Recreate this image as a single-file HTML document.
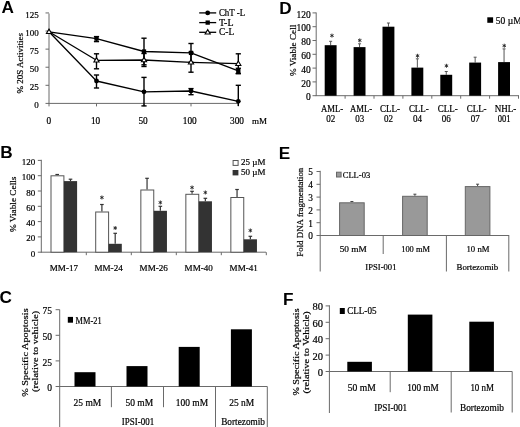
<!DOCTYPE html><html><head><meta charset="utf-8"><style>html,body{margin:0;padding:0;background:#fff;width:520px;height:427px;overflow:hidden}svg{display:block;will-change:transform}text{font-family:"Liberation Serif",serif;stroke:#000;stroke-width:0.2px}</style></head><body><svg width="520" height="427" viewBox="0 0 520 427"><rect width="520" height="427" fill="#fff"/><text x="1.60" y="12.70" font-size="17.2" text-anchor="start" fill="#000" style='font-family:"Liberation Sans", sans-serif;stroke:none' font-weight="bold" stroke="none">A</text>
<line x1="49.00" y1="13.50" x2="49.00" y2="103.70" stroke="#6a6a6a" stroke-width="1" />
<line x1="48.50" y1="103.40" x2="238.50" y2="103.40" stroke="#6a6a6a" stroke-width="1" />
<line x1="45.50" y1="103.40" x2="49.00" y2="103.40" stroke="#6a6a6a" stroke-width="1" />
<text x="38.80" y="108.40" font-size="9" text-anchor="end" fill="#000" >0</text>
<line x1="45.50" y1="85.31" x2="49.00" y2="85.31" stroke="#6a6a6a" stroke-width="1" />
<text x="38.80" y="90.31" font-size="9" text-anchor="end" fill="#000" >25</text>
<line x1="45.50" y1="67.22" x2="49.00" y2="67.22" stroke="#6a6a6a" stroke-width="1" />
<text x="38.80" y="72.22" font-size="9" text-anchor="end" fill="#000" >50</text>
<line x1="45.50" y1="49.13" x2="49.00" y2="49.13" stroke="#6a6a6a" stroke-width="1" />
<text x="38.80" y="54.13" font-size="9" text-anchor="end" fill="#000" >75</text>
<line x1="45.50" y1="31.04" x2="49.00" y2="31.04" stroke="#6a6a6a" stroke-width="1" />
<text x="38.80" y="36.04" font-size="9" text-anchor="end" fill="#000" >100</text>
<line x1="45.50" y1="12.95" x2="49.00" y2="12.95" stroke="#6a6a6a" stroke-width="1" />
<text x="38.80" y="17.95" font-size="9" text-anchor="end" fill="#000" >125</text>
<line x1="49.00" y1="103.40" x2="49.00" y2="106.40" stroke="#6a6a6a" stroke-width="1" />
<text x="48.90" y="123.60" font-size="9.3" text-anchor="middle" fill="#000" >0</text>
<line x1="96.50" y1="103.40" x2="96.50" y2="106.40" stroke="#6a6a6a" stroke-width="1" />
<text x="95.60" y="123.60" font-size="9.3" text-anchor="middle" fill="#000" >10</text>
<line x1="144.00" y1="103.40" x2="144.00" y2="106.40" stroke="#6a6a6a" stroke-width="1" />
<text x="143.10" y="123.60" font-size="9.3" text-anchor="middle" fill="#000" >50</text>
<line x1="191.00" y1="103.40" x2="191.00" y2="106.40" stroke="#6a6a6a" stroke-width="1" />
<text x="189.80" y="123.60" font-size="9.3" text-anchor="middle" fill="#000" >100</text>
<line x1="238.30" y1="103.40" x2="238.30" y2="106.40" stroke="#6a6a6a" stroke-width="1" />
<text x="237.00" y="123.60" font-size="9.3" text-anchor="middle" fill="#000" >300</text>
<text x="252.00" y="123.50" font-size="9" text-anchor="start" fill="#000" >mM</text>
<text x="22.90" y="63.20" font-size="9" text-anchor="middle" fill="#000" textLength="60.60" lengthAdjust="spacingAndGlyphs" transform="rotate(-90 22.90 63.20)" >% 20S Activities</text>
<line x1="96.50" y1="36.60" x2="96.50" y2="41.60" stroke="#000" stroke-width="1.4" />
<line x1="93.90" y1="36.60" x2="99.10" y2="36.60" stroke="#000" stroke-width="1.4" />
<line x1="93.90" y1="41.60" x2="99.10" y2="41.60" stroke="#000" stroke-width="1.4" />
<line x1="144.00" y1="38.20" x2="144.00" y2="64.80" stroke="#000" stroke-width="1.4" />
<line x1="141.40" y1="38.20" x2="146.60" y2="38.20" stroke="#000" stroke-width="1.4" />
<line x1="141.40" y1="64.80" x2="146.60" y2="64.80" stroke="#000" stroke-width="1.4" />
<line x1="191.00" y1="43.50" x2="191.00" y2="62.30" stroke="#000" stroke-width="1.4" />
<line x1="188.40" y1="43.50" x2="193.60" y2="43.50" stroke="#000" stroke-width="1.4" />
<line x1="188.40" y1="62.30" x2="193.60" y2="62.30" stroke="#000" stroke-width="1.4" />
<line x1="238.30" y1="68.30" x2="238.30" y2="73.50" stroke="#000" stroke-width="1.4" />
<line x1="235.70" y1="68.30" x2="240.90" y2="68.30" stroke="#000" stroke-width="1.4" />
<line x1="235.70" y1="73.50" x2="240.90" y2="73.50" stroke="#000" stroke-width="1.4" />
<line x1="96.50" y1="53.80" x2="96.50" y2="68.80" stroke="#000" stroke-width="1.4" />
<line x1="93.90" y1="53.80" x2="99.10" y2="53.80" stroke="#000" stroke-width="1.4" />
<line x1="93.90" y1="68.80" x2="99.10" y2="68.80" stroke="#000" stroke-width="1.4" />
<line x1="144.00" y1="53.50" x2="144.00" y2="66.50" stroke="#000" stroke-width="1.4" />
<line x1="141.40" y1="53.50" x2="146.60" y2="53.50" stroke="#000" stroke-width="1.4" />
<line x1="141.40" y1="66.50" x2="146.60" y2="66.50" stroke="#000" stroke-width="1.4" />
<line x1="191.00" y1="52.30" x2="191.00" y2="72.20" stroke="#000" stroke-width="1.4" />
<line x1="188.40" y1="52.30" x2="193.60" y2="52.30" stroke="#000" stroke-width="1.4" />
<line x1="188.40" y1="72.20" x2="193.60" y2="72.20" stroke="#000" stroke-width="1.4" />
<line x1="238.30" y1="53.80" x2="238.30" y2="73.60" stroke="#000" stroke-width="1.4" />
<line x1="235.70" y1="53.80" x2="240.90" y2="53.80" stroke="#000" stroke-width="1.4" />
<line x1="235.70" y1="73.60" x2="240.90" y2="73.60" stroke="#000" stroke-width="1.4" />
<line x1="96.50" y1="75.00" x2="96.50" y2="88.00" stroke="#000" stroke-width="1.4" />
<line x1="93.90" y1="75.00" x2="99.10" y2="75.00" stroke="#000" stroke-width="1.4" />
<line x1="93.90" y1="88.00" x2="99.10" y2="88.00" stroke="#000" stroke-width="1.4" />
<line x1="144.00" y1="77.40" x2="144.00" y2="105.90" stroke="#000" stroke-width="1.4" />
<line x1="141.40" y1="77.40" x2="146.60" y2="77.40" stroke="#000" stroke-width="1.4" />
<line x1="141.40" y1="105.90" x2="146.60" y2="105.90" stroke="#000" stroke-width="1.4" />
<line x1="191.00" y1="88.60" x2="191.00" y2="94.70" stroke="#000" stroke-width="1.4" />
<line x1="188.40" y1="88.60" x2="193.60" y2="88.60" stroke="#000" stroke-width="1.4" />
<line x1="188.40" y1="94.70" x2="193.60" y2="94.70" stroke="#000" stroke-width="1.4" />
<line x1="238.30" y1="85.30" x2="238.30" y2="106.00" stroke="#000" stroke-width="1.4" />
<line x1="235.70" y1="85.30" x2="240.90" y2="85.30" stroke="#000" stroke-width="1.4" />
<polyline points="49.00,31.80 96.50,38.60 144.00,51.50 191.00,52.90 238.30,70.90" fill="none" stroke="#000" stroke-width="1.3" stroke-linejoin="round"/>
<polyline points="49.00,31.80 96.50,60.30 144.00,60.00 191.00,62.30 238.30,63.70" fill="none" stroke="#000" stroke-width="1.3" stroke-linejoin="round"/>
<polyline points="49.00,31.80 96.50,81.00 144.00,91.80 191.00,91.00 238.30,101.30" fill="none" stroke="#000" stroke-width="1.3" stroke-linejoin="round"/>
<rect x="94.35" y="36.45" width="4.30" height="4.30" fill="#000" stroke="none" stroke-width="1"/>
<rect x="141.85" y="49.35" width="4.30" height="4.30" fill="#000" stroke="none" stroke-width="1"/>
<rect x="188.85" y="50.75" width="4.30" height="4.30" fill="#000" stroke="none" stroke-width="1"/>
<rect x="236.15" y="68.75" width="4.30" height="4.30" fill="#000" stroke="none" stroke-width="1"/>
<circle cx="96.50" cy="81.00" r="2.4" fill="#000"/>
<circle cx="144.00" cy="91.80" r="2.4" fill="#000"/>
<circle cx="191.00" cy="91.00" r="2.4" fill="#000"/>
<circle cx="238.30" cy="101.30" r="2.4" fill="#000"/>
<polygon points="49.00,29.15 51.60,33.57 46.40,33.57" fill="#fff" stroke="#000" stroke-width="1.1"/>
<polygon points="96.50,57.65 99.10,62.07 93.90,62.07" fill="#fff" stroke="#000" stroke-width="1.1"/>
<polygon points="144.00,57.35 146.60,61.77 141.40,61.77" fill="#fff" stroke="#000" stroke-width="1.1"/>
<polygon points="191.00,59.65 193.60,64.07 188.40,64.07" fill="#fff" stroke="#000" stroke-width="1.1"/>
<polygon points="238.30,61.05 240.90,65.47 235.70,65.47" fill="#fff" stroke="#000" stroke-width="1.1"/>
<line x1="199.20" y1="12.90" x2="216.20" y2="12.90" stroke="#000" stroke-width="1.3" />
<circle cx="207.70" cy="12.90" r="2.4" fill="#000"/>
<text x="218.90" y="16.00" font-size="9.3" text-anchor="start" fill="#000" textLength="26.30" lengthAdjust="spacingAndGlyphs" >ChT -L</text>
<line x1="199.20" y1="22.60" x2="216.20" y2="22.60" stroke="#000" stroke-width="1.3" />
<rect x="205.55" y="20.45" width="4.30" height="4.30" fill="#000" stroke="none" stroke-width="1"/>
<text x="218.90" y="25.70" font-size="9.3" text-anchor="start" fill="#000" textLength="14.60" lengthAdjust="spacingAndGlyphs" >T-L</text>
<line x1="199.20" y1="32.30" x2="216.20" y2="32.30" stroke="#000" stroke-width="1.3" />
<polygon points="207.70,29.65 210.30,34.07 205.10,34.07" fill="#fff" stroke="#000" stroke-width="1.1"/>
<text x="218.90" y="35.40" font-size="9.3" text-anchor="start" fill="#000" textLength="15.30" lengthAdjust="spacingAndGlyphs" >C-L</text>
<text x="279.20" y="14.10" font-size="17.2" text-anchor="start" fill="#000" style='font-family:"Liberation Sans", sans-serif;stroke:none' font-weight="bold" stroke="none">D</text>
<line x1="316.20" y1="12.50" x2="316.20" y2="96.00" stroke="#6a6a6a" stroke-width="1" />
<line x1="315.70" y1="95.70" x2="519.00" y2="95.70" stroke="#6a6a6a" stroke-width="1" />
<line x1="312.50" y1="95.70" x2="316.20" y2="95.70" stroke="#6a6a6a" stroke-width="1" />
<text x="310.70" y="100.40" font-size="9.5" text-anchor="end" fill="#000" >0</text>
<line x1="312.50" y1="81.90" x2="316.20" y2="81.90" stroke="#6a6a6a" stroke-width="1" />
<text x="310.70" y="86.60" font-size="9.5" text-anchor="end" fill="#000" >20</text>
<line x1="312.50" y1="68.10" x2="316.20" y2="68.10" stroke="#6a6a6a" stroke-width="1" />
<text x="310.70" y="72.80" font-size="9.5" text-anchor="end" fill="#000" >40</text>
<line x1="312.50" y1="54.30" x2="316.20" y2="54.30" stroke="#6a6a6a" stroke-width="1" />
<text x="310.70" y="59.00" font-size="9.5" text-anchor="end" fill="#000" >60</text>
<line x1="312.50" y1="40.50" x2="316.20" y2="40.50" stroke="#6a6a6a" stroke-width="1" />
<text x="310.70" y="45.20" font-size="9.5" text-anchor="end" fill="#000" >80</text>
<line x1="312.50" y1="26.70" x2="316.20" y2="26.70" stroke="#6a6a6a" stroke-width="1" />
<text x="310.70" y="31.40" font-size="9.5" text-anchor="end" fill="#000" >100</text>
<line x1="312.50" y1="12.90" x2="316.20" y2="12.90" stroke="#6a6a6a" stroke-width="1" />
<text x="310.70" y="17.60" font-size="9.5" text-anchor="end" fill="#000" >120</text>
<line x1="345.10" y1="95.70" x2="345.10" y2="98.70" stroke="#6a6a6a" stroke-width="1" />
<line x1="374.00" y1="95.70" x2="374.00" y2="98.70" stroke="#6a6a6a" stroke-width="1" />
<line x1="402.90" y1="95.70" x2="402.90" y2="98.70" stroke="#6a6a6a" stroke-width="1" />
<line x1="431.80" y1="95.70" x2="431.80" y2="98.70" stroke="#6a6a6a" stroke-width="1" />
<line x1="460.70" y1="95.70" x2="460.70" y2="98.70" stroke="#6a6a6a" stroke-width="1" />
<line x1="489.60" y1="95.70" x2="489.60" y2="98.70" stroke="#6a6a6a" stroke-width="1" />
<line x1="518.50" y1="95.70" x2="518.50" y2="98.70" stroke="#6a6a6a" stroke-width="1" />
<line x1="330.65" y1="41.30" x2="330.65" y2="45.19" stroke="#555" stroke-width="1" />
<line x1="329.15" y1="41.30" x2="332.15" y2="41.30" stroke="#555" stroke-width="1" />
<rect x="324.70" y="45.19" width="11.90" height="50.51" fill="#000" stroke="none" stroke-width="1"/>
<path d="M331.95,34.00L331.95,37.20M333.34,34.80L330.56,36.40M333.34,36.40L330.56,34.80" stroke="#222" stroke-width="0.9" stroke-linecap="round"/>
<text x="332.15" y="112.20" font-size="10" text-anchor="middle" fill="#000" textLength="22.20" lengthAdjust="spacingAndGlyphs" >AML-</text>
<text x="330.75" y="122.20" font-size="10" text-anchor="middle" fill="#000" textLength="9.00" lengthAdjust="spacingAndGlyphs" >02</text>
<line x1="359.55" y1="43.80" x2="359.55" y2="47.12" stroke="#555" stroke-width="1" />
<line x1="358.05" y1="43.80" x2="361.05" y2="43.80" stroke="#555" stroke-width="1" />
<rect x="353.60" y="47.12" width="11.90" height="48.58" fill="#000" stroke="none" stroke-width="1"/>
<path d="M359.75,38.80L359.75,42.00M361.14,39.60L358.36,41.20M361.14,41.20L358.36,39.60" stroke="#222" stroke-width="0.9" stroke-linecap="round"/>
<text x="361.05" y="112.20" font-size="10" text-anchor="middle" fill="#000" textLength="22.20" lengthAdjust="spacingAndGlyphs" >AML-</text>
<text x="359.65" y="122.20" font-size="10" text-anchor="middle" fill="#000" textLength="9.00" lengthAdjust="spacingAndGlyphs" >03</text>
<line x1="388.45" y1="23.00" x2="388.45" y2="26.70" stroke="#555" stroke-width="1" />
<line x1="386.95" y1="23.00" x2="389.95" y2="23.00" stroke="#555" stroke-width="1" />
<rect x="382.50" y="26.70" width="11.90" height="69.00" fill="#000" stroke="none" stroke-width="1"/>
<text x="389.95" y="112.20" font-size="10" text-anchor="middle" fill="#000" textLength="19.90" lengthAdjust="spacingAndGlyphs" >CLL-</text>
<text x="388.55" y="122.20" font-size="10" text-anchor="middle" fill="#000" textLength="9.00" lengthAdjust="spacingAndGlyphs" >02</text>
<line x1="417.35" y1="58.80" x2="417.35" y2="67.62" stroke="#555" stroke-width="1" />
<line x1="415.85" y1="58.80" x2="418.85" y2="58.80" stroke="#555" stroke-width="1" />
<rect x="411.40" y="67.62" width="11.90" height="28.08" fill="#000" stroke="none" stroke-width="1"/>
<path d="M417.55,54.20L417.55,57.40M418.94,55.00L416.16,56.60M418.94,56.60L416.16,55.00" stroke="#222" stroke-width="0.9" stroke-linecap="round"/>
<text x="418.85" y="112.20" font-size="10" text-anchor="middle" fill="#000" textLength="19.90" lengthAdjust="spacingAndGlyphs" >CLL-</text>
<text x="417.45" y="122.20" font-size="10" text-anchor="middle" fill="#000" textLength="9.00" lengthAdjust="spacingAndGlyphs" >04</text>
<line x1="446.25" y1="71.50" x2="446.25" y2="74.79" stroke="#555" stroke-width="1" />
<line x1="444.75" y1="71.50" x2="447.75" y2="71.50" stroke="#555" stroke-width="1" />
<rect x="440.30" y="74.79" width="11.90" height="20.91" fill="#000" stroke="none" stroke-width="1"/>
<path d="M446.45,64.20L446.45,67.40M447.84,65.00L445.06,66.60M447.84,66.60L445.06,65.00" stroke="#222" stroke-width="0.9" stroke-linecap="round"/>
<text x="447.75" y="112.20" font-size="10" text-anchor="middle" fill="#000" textLength="19.90" lengthAdjust="spacingAndGlyphs" >CLL-</text>
<text x="446.35" y="122.20" font-size="10" text-anchor="middle" fill="#000" textLength="9.00" lengthAdjust="spacingAndGlyphs" >06</text>
<line x1="475.15" y1="57.20" x2="475.15" y2="62.58" stroke="#555" stroke-width="1" />
<line x1="473.65" y1="57.20" x2="476.65" y2="57.20" stroke="#555" stroke-width="1" />
<rect x="469.20" y="62.58" width="11.90" height="33.12" fill="#000" stroke="none" stroke-width="1"/>
<text x="476.65" y="112.20" font-size="10" text-anchor="middle" fill="#000" textLength="19.90" lengthAdjust="spacingAndGlyphs" >CLL-</text>
<text x="475.25" y="122.20" font-size="10" text-anchor="middle" fill="#000" textLength="9.00" lengthAdjust="spacingAndGlyphs" >07</text>
<line x1="504.05" y1="48.90" x2="504.05" y2="62.10" stroke="#555" stroke-width="1" />
<line x1="502.55" y1="48.90" x2="505.55" y2="48.90" stroke="#555" stroke-width="1" />
<rect x="498.10" y="62.10" width="11.90" height="33.60" fill="#000" stroke="none" stroke-width="1"/>
<path d="M504.25,44.10L504.25,47.30M505.64,44.90L502.86,46.50M505.64,46.50L502.86,44.90" stroke="#222" stroke-width="0.9" stroke-linecap="round"/>
<text x="505.55" y="112.20" font-size="10" text-anchor="middle" fill="#000" textLength="21.60" lengthAdjust="spacingAndGlyphs" >NHL-</text>
<text x="504.15" y="122.20" font-size="10" text-anchor="middle" fill="#000" textLength="12.80" lengthAdjust="spacingAndGlyphs" >001</text>
<text x="296.40" y="50.40" font-size="9" text-anchor="middle" fill="#000" textLength="51.30" lengthAdjust="spacingAndGlyphs" transform="rotate(-90 296.40 50.40)" >% Viable Cell</text>
<rect x="487.30" y="17.30" width="5.80" height="5.50" fill="#000" stroke="none" stroke-width="1"/>
<text x="495.80" y="23.75" font-size="9.5" text-anchor="start" fill="#000" >50 µM</text>
<text x="0.20" y="157.70" font-size="17.2" text-anchor="start" fill="#000" style='font-family:"Liberation Sans", sans-serif;stroke:none' font-weight="bold" stroke="none">B</text>
<line x1="41.30" y1="159.80" x2="41.30" y2="252.50" stroke="#6a6a6a" stroke-width="1" />
<line x1="40.80" y1="252.20" x2="266.00" y2="252.20" stroke="#6a6a6a" stroke-width="1" />
<line x1="37.80" y1="252.20" x2="41.30" y2="252.20" stroke="#6a6a6a" stroke-width="1" />
<text x="35.20" y="256.70" font-size="9" text-anchor="end" fill="#000" >0</text>
<line x1="37.80" y1="236.90" x2="41.30" y2="236.90" stroke="#6a6a6a" stroke-width="1" />
<text x="35.20" y="241.40" font-size="9" text-anchor="end" fill="#000" >20</text>
<line x1="37.80" y1="221.60" x2="41.30" y2="221.60" stroke="#6a6a6a" stroke-width="1" />
<text x="35.20" y="226.10" font-size="9" text-anchor="end" fill="#000" >40</text>
<line x1="37.80" y1="206.30" x2="41.30" y2="206.30" stroke="#6a6a6a" stroke-width="1" />
<text x="35.20" y="210.80" font-size="9" text-anchor="end" fill="#000" >60</text>
<line x1="37.80" y1="191.00" x2="41.30" y2="191.00" stroke="#6a6a6a" stroke-width="1" />
<text x="35.20" y="195.50" font-size="9" text-anchor="end" fill="#000" >80</text>
<line x1="37.80" y1="175.70" x2="41.30" y2="175.70" stroke="#6a6a6a" stroke-width="1" />
<text x="35.20" y="180.20" font-size="9" text-anchor="end" fill="#000" >100</text>
<line x1="37.80" y1="160.40" x2="41.30" y2="160.40" stroke="#6a6a6a" stroke-width="1" />
<text x="35.20" y="164.90" font-size="9" text-anchor="end" fill="#000" >120</text>
<line x1="86.30" y1="252.20" x2="86.30" y2="255.20" stroke="#6a6a6a" stroke-width="1" />
<line x1="131.30" y1="252.20" x2="131.30" y2="255.20" stroke="#6a6a6a" stroke-width="1" />
<line x1="176.30" y1="252.20" x2="176.30" y2="255.20" stroke="#6a6a6a" stroke-width="1" />
<line x1="221.30" y1="252.20" x2="221.30" y2="255.20" stroke="#6a6a6a" stroke-width="1" />
<line x1="266.30" y1="252.20" x2="266.30" y2="255.20" stroke="#6a6a6a" stroke-width="1" />
<line x1="57.20" y1="174.50" x2="57.20" y2="175.30" stroke="#333" stroke-width="1.2" />
<line x1="55.40" y1="174.50" x2="59.00" y2="174.50" stroke="#333" stroke-width="1.2" />
<rect x="51.00" y="175.80" width="12.90" height="76.40" fill="#fff" stroke="#555" stroke-width="1"/>
<line x1="70.50" y1="179.20" x2="70.50" y2="181.10" stroke="#333" stroke-width="1.2" />
<line x1="68.70" y1="179.20" x2="72.30" y2="179.20" stroke="#333" stroke-width="1.2" />
<rect x="63.90" y="181.10" width="13.20" height="71.10" fill="#333" stroke="none" stroke-width="1"/>
<text x="63.90" y="270.80" font-size="9" text-anchor="middle" fill="#000" textLength="28.30" lengthAdjust="spacingAndGlyphs" >MM-17</text>
<line x1="101.90" y1="204.50" x2="101.90" y2="211.50" stroke="#333" stroke-width="1.2" />
<line x1="100.10" y1="204.50" x2="103.70" y2="204.50" stroke="#333" stroke-width="1.2" />
<rect x="95.70" y="212.00" width="12.90" height="40.20" fill="#fff" stroke="#555" stroke-width="1"/>
<line x1="115.20" y1="233.30" x2="115.20" y2="243.80" stroke="#333" stroke-width="1.2" />
<line x1="113.40" y1="233.30" x2="117.00" y2="233.30" stroke="#333" stroke-width="1.2" />
<rect x="108.60" y="243.80" width="13.20" height="8.40" fill="#333" stroke="none" stroke-width="1"/>
<path d="M101.90,195.90L101.90,199.10M103.29,196.70L100.51,198.30M103.29,198.30L100.51,196.70" stroke="#222" stroke-width="0.9" stroke-linecap="round"/>
<path d="M115.20,226.40L115.20,229.60M116.59,227.20L113.81,228.80M116.59,228.80L113.81,227.20" stroke="#222" stroke-width="0.9" stroke-linecap="round"/>
<text x="108.60" y="270.80" font-size="9" text-anchor="middle" fill="#000" textLength="28.30" lengthAdjust="spacingAndGlyphs" >MM-24</text>
<line x1="147.05" y1="178.30" x2="147.05" y2="189.50" stroke="#333" stroke-width="1.2" />
<line x1="145.25" y1="178.30" x2="148.85" y2="178.30" stroke="#333" stroke-width="1.2" />
<rect x="140.85" y="190.00" width="12.90" height="62.20" fill="#fff" stroke="#555" stroke-width="1"/>
<line x1="160.35" y1="206.30" x2="160.35" y2="210.80" stroke="#333" stroke-width="1.2" />
<line x1="158.55" y1="206.30" x2="162.15" y2="206.30" stroke="#333" stroke-width="1.2" />
<rect x="153.75" y="210.80" width="13.20" height="41.40" fill="#333" stroke="none" stroke-width="1"/>
<path d="M160.35,200.90L160.35,204.10M161.74,201.70L158.96,203.30M161.74,203.30L158.96,201.70" stroke="#222" stroke-width="0.9" stroke-linecap="round"/>
<text x="153.75" y="270.80" font-size="9" text-anchor="middle" fill="#000" textLength="28.30" lengthAdjust="spacingAndGlyphs" >MM-26</text>
<line x1="192.05" y1="191.30" x2="192.05" y2="193.80" stroke="#333" stroke-width="1.2" />
<line x1="190.25" y1="191.30" x2="193.85" y2="191.30" stroke="#333" stroke-width="1.2" />
<rect x="185.85" y="194.30" width="12.90" height="57.90" fill="#fff" stroke="#555" stroke-width="1"/>
<line x1="205.35" y1="198.30" x2="205.35" y2="201.30" stroke="#333" stroke-width="1.2" />
<line x1="203.55" y1="198.30" x2="207.15" y2="198.30" stroke="#333" stroke-width="1.2" />
<rect x="198.75" y="201.30" width="13.20" height="50.90" fill="#333" stroke="none" stroke-width="1"/>
<path d="M192.05,185.90L192.05,189.10M193.44,186.70L190.66,188.30M193.44,188.30L190.66,186.70" stroke="#222" stroke-width="0.9" stroke-linecap="round"/>
<path d="M205.35,190.90L205.35,194.10M206.74,191.70L203.96,193.30M206.74,193.30L203.96,191.70" stroke="#222" stroke-width="0.9" stroke-linecap="round"/>
<text x="198.75" y="270.80" font-size="9" text-anchor="middle" fill="#000" textLength="28.30" lengthAdjust="spacingAndGlyphs" >MM-40</text>
<line x1="237.05" y1="189.50" x2="237.05" y2="197.00" stroke="#333" stroke-width="1.2" />
<line x1="235.25" y1="189.50" x2="238.85" y2="189.50" stroke="#333" stroke-width="1.2" />
<rect x="230.85" y="197.50" width="12.90" height="54.70" fill="#fff" stroke="#555" stroke-width="1"/>
<line x1="250.35" y1="236.30" x2="250.35" y2="239.30" stroke="#333" stroke-width="1.2" />
<line x1="248.55" y1="236.30" x2="252.15" y2="236.30" stroke="#333" stroke-width="1.2" />
<rect x="243.75" y="239.30" width="13.20" height="12.90" fill="#333" stroke="none" stroke-width="1"/>
<path d="M250.35,228.90L250.35,232.10M251.74,229.70L248.96,231.30M251.74,231.30L248.96,229.70" stroke="#222" stroke-width="0.9" stroke-linecap="round"/>
<text x="243.75" y="270.80" font-size="9" text-anchor="middle" fill="#000" textLength="28.30" lengthAdjust="spacingAndGlyphs" >MM-41</text>
<text x="16.50" y="204.30" font-size="8.8" text-anchor="middle" fill="#000" textLength="55.50" lengthAdjust="spacingAndGlyphs" transform="rotate(-90 16.50 204.30)" >% Viable Cells</text>
<rect x="233.10" y="160.50" width="5.00" height="4.90" fill="#fff" stroke="#555" stroke-width="1"/>
<text x="241.10" y="164.60" font-size="9" text-anchor="start" fill="#000" >25 µM</text>
<rect x="232.60" y="170.00" width="5.80" height="5.40" fill="#333" stroke="none" stroke-width="1"/>
<text x="241.10" y="174.60" font-size="9" text-anchor="start" fill="#000" >50 µM</text>
<text x="278.80" y="158.90" font-size="17.2" text-anchor="start" fill="#000" style='font-family:"Liberation Sans", sans-serif;stroke:none' font-weight="bold" stroke="none">E</text>
<line x1="320.20" y1="170.80" x2="320.20" y2="271.50" stroke="#6a6a6a" stroke-width="1" />
<line x1="319.70" y1="235.50" x2="509.20" y2="235.50" stroke="#6a6a6a" stroke-width="1" />
<line x1="316.50" y1="235.50" x2="320.20" y2="235.50" stroke="#6a6a6a" stroke-width="1" />
<text x="312.80" y="239.40" font-size="9.3" text-anchor="end" fill="#000" >0</text>
<line x1="316.50" y1="222.70" x2="320.20" y2="222.70" stroke="#6a6a6a" stroke-width="1" />
<text x="312.80" y="226.60" font-size="9.3" text-anchor="end" fill="#000" >1</text>
<line x1="316.50" y1="209.90" x2="320.20" y2="209.90" stroke="#6a6a6a" stroke-width="1" />
<text x="312.80" y="213.80" font-size="9.3" text-anchor="end" fill="#000" >2</text>
<line x1="316.50" y1="197.10" x2="320.20" y2="197.10" stroke="#6a6a6a" stroke-width="1" />
<text x="312.80" y="201.00" font-size="9.3" text-anchor="end" fill="#000" >3</text>
<line x1="316.50" y1="184.30" x2="320.20" y2="184.30" stroke="#6a6a6a" stroke-width="1" />
<text x="312.80" y="188.20" font-size="9.3" text-anchor="end" fill="#000" >4</text>
<line x1="316.50" y1="171.50" x2="320.20" y2="171.50" stroke="#6a6a6a" stroke-width="1" />
<text x="312.80" y="175.40" font-size="9.3" text-anchor="end" fill="#000" >5</text>
<line x1="383.20" y1="235.50" x2="383.20" y2="254.00" stroke="#6a6a6a" stroke-width="1" />
<line x1="446.40" y1="235.50" x2="446.40" y2="271.50" stroke="#6a6a6a" stroke-width="1" />
<line x1="508.80" y1="235.50" x2="508.80" y2="271.50" stroke="#6a6a6a" stroke-width="1" />
<line x1="351.90" y1="201.50" x2="351.90" y2="202.30" stroke="#444" stroke-width="1" />
<line x1="350.40" y1="201.50" x2="353.40" y2="201.50" stroke="#444" stroke-width="1" />
<rect x="339.60" y="202.80" width="24.60" height="32.70" fill="#999" stroke="#666" stroke-width="1"/>
<line x1="414.90" y1="194.20" x2="414.90" y2="195.80" stroke="#444" stroke-width="1" />
<line x1="413.40" y1="194.20" x2="416.40" y2="194.20" stroke="#444" stroke-width="1" />
<rect x="402.60" y="196.30" width="24.60" height="39.20" fill="#999" stroke="#666" stroke-width="1"/>
<line x1="477.60" y1="184.20" x2="477.60" y2="186.10" stroke="#444" stroke-width="1" />
<line x1="476.10" y1="184.20" x2="479.10" y2="184.20" stroke="#444" stroke-width="1" />
<rect x="465.30" y="186.60" width="24.60" height="48.90" fill="#999" stroke="#666" stroke-width="1"/>
<text x="353.30" y="252.40" font-size="9" text-anchor="middle" fill="#000" textLength="27.20" lengthAdjust="spacingAndGlyphs" >50  mM</text>
<text x="415.60" y="252.40" font-size="9" text-anchor="middle" fill="#000" textLength="28.80" lengthAdjust="spacingAndGlyphs" >100 mM</text>
<text x="478.00" y="252.40" font-size="9" text-anchor="middle" fill="#000" textLength="23.00" lengthAdjust="spacingAndGlyphs" >10  nM</text>
<text x="380.90" y="269.70" font-size="9" text-anchor="middle" fill="#000" textLength="31.20" lengthAdjust="spacingAndGlyphs" >IPSI-001</text>
<text x="477.30" y="269.70" font-size="9" text-anchor="middle" fill="#000" textLength="41.60" lengthAdjust="spacingAndGlyphs" >Bortezomib</text>
<rect x="336.50" y="172.20" width="4.60" height="4.80" fill="#999" stroke="#666" stroke-width="1"/>
<text x="342.70" y="178.30" font-size="9" text-anchor="start" fill="#000" textLength="27.50" lengthAdjust="spacingAndGlyphs" >CLL-03</text>
<text x="302.60" y="212.20" font-size="9.2" text-anchor="middle" fill="#000" textLength="89.00" lengthAdjust="spacingAndGlyphs" transform="rotate(-90 302.60 212.20)" >Fold DNA fragmentation</text>
<text x="-0.60" y="303.00" font-size="17.2" text-anchor="start" fill="#000" style='font-family:"Liberation Sans", sans-serif;stroke:none' font-weight="bold" stroke="none">C</text>
<line x1="59.70" y1="309.60" x2="59.70" y2="427.00" stroke="#6a6a6a" stroke-width="1" />
<line x1="59.20" y1="386.50" x2="267.30" y2="386.50" stroke="#6a6a6a" stroke-width="1" />
<line x1="55.60" y1="386.50" x2="59.70" y2="386.50" stroke="#6a6a6a" stroke-width="1" />
<text x="52.00" y="391.10" font-size="9.5" text-anchor="end" fill="#000" >0</text>
<line x1="55.60" y1="360.90" x2="59.70" y2="360.90" stroke="#6a6a6a" stroke-width="1" />
<text x="52.00" y="365.50" font-size="9.5" text-anchor="end" fill="#000" >25</text>
<line x1="55.60" y1="335.30" x2="59.70" y2="335.30" stroke="#6a6a6a" stroke-width="1" />
<text x="52.00" y="339.90" font-size="9.5" text-anchor="end" fill="#000" >50</text>
<line x1="55.60" y1="309.70" x2="59.70" y2="309.70" stroke="#6a6a6a" stroke-width="1" />
<text x="52.00" y="314.30" font-size="9.5" text-anchor="end" fill="#000" >75</text>
<line x1="111.40" y1="386.50" x2="111.40" y2="407.20" stroke="#6a6a6a" stroke-width="1" />
<line x1="163.50" y1="386.50" x2="163.50" y2="407.20" stroke="#6a6a6a" stroke-width="1" />
<line x1="215.50" y1="386.50" x2="215.50" y2="427.00" stroke="#6a6a6a" stroke-width="1" />
<line x1="267.30" y1="386.50" x2="267.30" y2="427.00" stroke="#6a6a6a" stroke-width="1" />
<rect x="74.50" y="372.20" width="21.00" height="14.30" fill="#000" stroke="none" stroke-width="1"/>
<rect x="126.50" y="366.10" width="21.00" height="20.40" fill="#000" stroke="none" stroke-width="1"/>
<rect x="178.70" y="346.90" width="21.00" height="39.60" fill="#000" stroke="none" stroke-width="1"/>
<rect x="230.90" y="329.30" width="21.00" height="57.20" fill="#000" stroke="none" stroke-width="1"/>
<text x="87.40" y="405.80" font-size="9.5" text-anchor="middle" fill="#000" textLength="27.70" lengthAdjust="spacingAndGlyphs" >25 mM</text>
<text x="139.30" y="405.80" font-size="9.5" text-anchor="middle" fill="#000" textLength="27.70" lengthAdjust="spacingAndGlyphs" >50 mM</text>
<text x="191.90" y="405.80" font-size="9.5" text-anchor="middle" fill="#000" textLength="32.30" lengthAdjust="spacingAndGlyphs" >100 mM</text>
<text x="241.70" y="405.80" font-size="9.5" text-anchor="middle" fill="#000" textLength="25.00" lengthAdjust="spacingAndGlyphs" >25 nM</text>
<text x="138.00" y="425.00" font-size="9.5" text-anchor="middle" fill="#000" textLength="32.30" lengthAdjust="spacingAndGlyphs" >IPSI-001</text>
<text x="243.10" y="425.00" font-size="9.5" text-anchor="middle" fill="#000" textLength="43.80" lengthAdjust="spacingAndGlyphs" >Bortezomib</text>
<rect x="67.80" y="316.90" width="5.20" height="5.80" fill="#000" stroke="none" stroke-width="1"/>
<text x="75.60" y="323.60" font-size="9.5" text-anchor="start" fill="#000" textLength="26.00" lengthAdjust="spacingAndGlyphs" >MM-21</text>
<text x="28.00" y="352.60" font-size="9.0" text-anchor="middle" fill="#000" textLength="88.50" lengthAdjust="spacingAndGlyphs" transform="rotate(-90 28.00 352.60)" >% Specific Apoptosis</text>
<text x="38.30" y="351.40" font-size="9.0" text-anchor="middle" fill="#000" textLength="81.20" lengthAdjust="spacingAndGlyphs" transform="rotate(-90 38.30 351.40)" >(relative to vehicle)</text>
<text x="282.90" y="305.20" font-size="17.2" text-anchor="start" fill="#000" style='font-family:"Liberation Sans", sans-serif;stroke:none' font-weight="bold" stroke="none">F</text>
<line x1="329.40" y1="305.30" x2="329.40" y2="413.00" stroke="#6a6a6a" stroke-width="1" />
<line x1="328.90" y1="371.50" x2="512.20" y2="371.50" stroke="#6a6a6a" stroke-width="1" />
<line x1="325.60" y1="371.50" x2="329.40" y2="371.50" stroke="#6a6a6a" stroke-width="1" />
<text x="323.00" y="376.00" font-size="10.5" text-anchor="end" fill="#000" >0</text>
<line x1="325.60" y1="355.10" x2="329.40" y2="355.10" stroke="#6a6a6a" stroke-width="1" />
<text x="323.00" y="359.60" font-size="10.5" text-anchor="end" fill="#000" >20</text>
<line x1="325.60" y1="338.70" x2="329.40" y2="338.70" stroke="#6a6a6a" stroke-width="1" />
<text x="323.00" y="343.20" font-size="10.5" text-anchor="end" fill="#000" >40</text>
<line x1="325.60" y1="322.30" x2="329.40" y2="322.30" stroke="#6a6a6a" stroke-width="1" />
<text x="323.00" y="326.80" font-size="10.5" text-anchor="end" fill="#000" >60</text>
<line x1="325.60" y1="305.90" x2="329.40" y2="305.90" stroke="#6a6a6a" stroke-width="1" />
<text x="323.00" y="310.40" font-size="10.5" text-anchor="end" fill="#000" >80</text>
<line x1="390.20" y1="371.50" x2="390.20" y2="392.20" stroke="#6a6a6a" stroke-width="1" />
<line x1="451.20" y1="371.50" x2="451.20" y2="412.50" stroke="#6a6a6a" stroke-width="1" />
<line x1="512.20" y1="371.50" x2="512.20" y2="412.50" stroke="#6a6a6a" stroke-width="1" />
<rect x="347.30" y="361.80" width="24.60" height="9.70" fill="#000" stroke="none" stroke-width="1"/>
<rect x="407.80" y="314.60" width="24.60" height="56.90" fill="#000" stroke="none" stroke-width="1"/>
<rect x="469.30" y="321.70" width="24.60" height="49.80" fill="#000" stroke="none" stroke-width="1"/>
<text x="361.70" y="390.90" font-size="9.5" text-anchor="middle" fill="#000" textLength="28.10" lengthAdjust="spacingAndGlyphs" >50 mM</text>
<text x="423.00" y="390.90" font-size="9.5" text-anchor="middle" fill="#000" textLength="31.70" lengthAdjust="spacingAndGlyphs" >100 mM</text>
<text x="482.20" y="390.90" font-size="9.5" text-anchor="middle" fill="#000" textLength="23.60" lengthAdjust="spacingAndGlyphs" >10 nM</text>
<text x="390.70" y="411.20" font-size="9.5" text-anchor="middle" fill="#000" textLength="33.00" lengthAdjust="spacingAndGlyphs" >IPSI-001</text>
<text x="482.00" y="411.20" font-size="9.5" text-anchor="middle" fill="#000" textLength="44.00" lengthAdjust="spacingAndGlyphs" >Bortezomib</text>
<rect x="339.80" y="308.00" width="5.00" height="6.00" fill="#000" stroke="none" stroke-width="1"/>
<text x="347.20" y="313.90" font-size="9.5" text-anchor="start" fill="#000" textLength="29.30" lengthAdjust="spacingAndGlyphs" >CLL-05</text>
<text x="298.80" y="352.00" font-size="8.2" text-anchor="middle" fill="#000" textLength="87.20" lengthAdjust="spacingAndGlyphs" transform="rotate(-90 298.80 352.00)" >% Specific Apoptosis</text>
<text x="309.20" y="352.30" font-size="8.2" text-anchor="middle" fill="#000" textLength="82.30" lengthAdjust="spacingAndGlyphs" transform="rotate(-90 309.20 352.30)" >(relative to Vehicle)</text></svg></body></html>
